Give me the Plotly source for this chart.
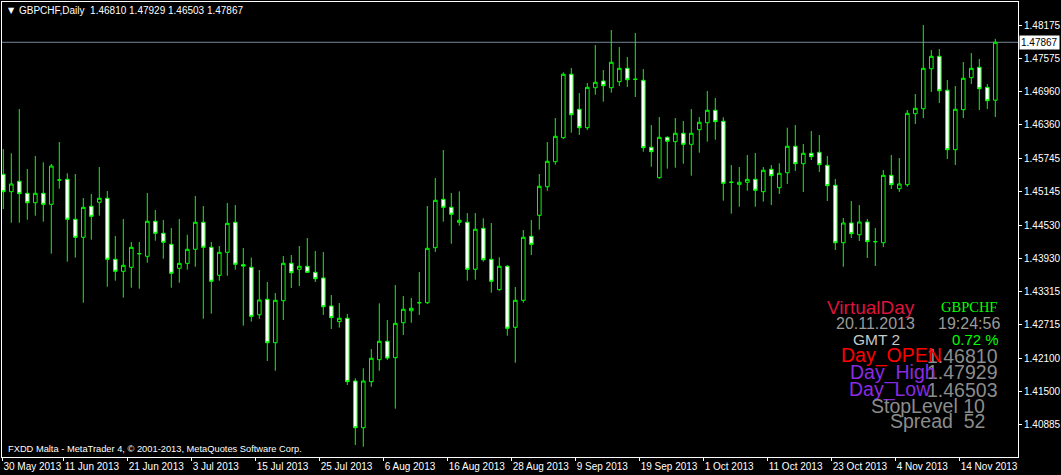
import pandas as pd
import plotly.graph_objects as go

# ---------------- data ----------------
dates = pd.bdate_range("2013-05-30", "2013-11-20")  # 125 daily bars (Mon-Fri)

opens = [1.45458, 1.45140, 1.45330, 1.45111, 1.44939, 1.45111, 1.44910, 1.45354, 1.45366, 1.44636,
         1.44308, 1.44874, 1.44947, 1.45020, 1.43906, 1.43687, 1.43760, 1.44009, 1.43961, 1.44600,
         1.44381, 1.44180, 1.43742, 1.43833, 1.44089, 1.44582, 1.44125, 1.43614, 1.44034, 1.44582,
         1.43808, 1.43760, 1.42895, 1.43176, 1.42384, 1.43151, 1.43833, 1.43724, 1.43779, 1.43669,
         1.43565, 1.43054, 1.42768, 1.42830, 1.41685, 1.40833, 1.41673, 1.42074, 1.42410, 1.42111,
         1.42749, 1.42968, 1.43114, 1.43114, 1.44118, 1.45001, 1.44855, 1.44582, 1.44582, 1.43724,
         1.44472, 1.43906, 1.43352, 1.43779, 1.42665, 1.43158, 1.44326, 1.44709, 1.45231, 1.45688,
         1.46126, 1.47283, 1.46644, 1.46308, 1.47038, 1.47160, 1.47038, 1.47148, 1.47392, 1.47191,
         1.47173, 1.45950, 1.45396, 1.46133, 1.46053, 1.46206, 1.46005, 1.46272, 1.46399, 1.46626,
         1.46425, 1.45312, 1.45275, 1.45312, 1.45366, 1.45140, 1.45549, 1.45213, 1.45487, 1.45969,
         1.45651, 1.45841, 1.45859, 1.45622, 1.45257, 1.44209, 1.44569, 1.44355, 1.44587, 1.44228,
         1.44209, 1.45439, 1.45195, 1.45268, 1.46564, 1.46655, 1.47385, 1.47611, 1.46991, 1.45907,
         1.46637, 1.47221, 1.47410, 1.47045, 1.46810]

highs = [1.45919, 1.45841, 1.46649, 1.45554, 1.45792, 1.45677, 1.45646, 1.46047, 1.45476, 1.45463,
         1.45025, 1.45098, 1.45591, 1.45153, 1.44332, 1.44642, 1.44222, 1.44222, 1.45116, 1.44806,
         1.44624, 1.44478, 1.44642, 1.44355, 1.45062, 1.44879, 1.44222, 1.44149, 1.44934, 1.44897,
         1.44113, 1.43936, 1.43711, 1.43492, 1.43291, 1.43967, 1.43985, 1.44149, 1.44295, 1.44058,
         1.44040, 1.43255, 1.43109, 1.42908, 1.41735, 1.41917, 1.42269, 1.43103, 1.42799, 1.43437,
         1.43237, 1.43200, 1.43675, 1.44879, 1.45390, 1.45901, 1.45116, 1.45147, 1.44751, 1.44751,
         1.44655, 1.44569, 1.43943, 1.43802, 1.43401, 1.44441, 1.44624, 1.45463, 1.46047, 1.46485,
         1.47319, 1.47398, 1.46941, 1.47124, 1.47817, 1.47361, 1.48091, 1.47781, 1.47598, 1.48036,
         1.47379, 1.46357, 1.46503, 1.46151, 1.46485, 1.46430, 1.46649, 1.46503, 1.46978, 1.46850,
         1.46498, 1.45627, 1.45591, 1.45810, 1.45846, 1.45591, 1.45627, 1.45658, 1.46308, 1.46357,
         1.46011, 1.46248, 1.46175, 1.45792, 1.45372, 1.44660, 1.44970, 1.44897, 1.44642, 1.44478,
         1.45536, 1.45810, 1.45755, 1.46631, 1.46923, 1.48182, 1.47726, 1.47744, 1.47179, 1.47069,
         1.47507, 1.47671, 1.47562, 1.47106, 1.47929]

lows = [1.44824, 1.44574, 1.44574, 1.44629, 1.44702, 1.44593, 1.44009, 1.45195, 1.43863, 1.43936,
        1.43114, 1.44264, 1.44702, 1.43406, 1.43516, 1.43206, 1.43388, 1.43370, 1.43844, 1.44246,
        1.43917, 1.43388, 1.43479, 1.43717, 1.43771, 1.42822, 1.42914, 1.43516, 1.43607, 1.43717,
        1.42695, 1.42768, 1.42822, 1.42050, 1.41873, 1.42799, 1.43383, 1.43419, 1.43669, 1.43492,
        1.42890, 1.42634, 1.42658, 1.41612, 1.40517, 1.40486, 1.41581, 1.41873, 1.42069, 1.41180,
        1.42525, 1.42749, 1.42890, 1.43091, 1.44040, 1.44593, 1.44191, 1.44520, 1.43516, 1.43534,
        1.43863, 1.43297, 1.43333, 1.42512, 1.42019, 1.43114, 1.43985, 1.44447, 1.45158, 1.45633,
        1.46102, 1.46217, 1.46175, 1.46266, 1.46910, 1.46783, 1.46947, 1.47069, 1.47051, 1.46868,
        1.45870, 1.45596, 1.45377, 1.45560, 1.45578, 1.45651, 1.45432, 1.45852, 1.46053, 1.46089,
        1.44976, 1.44739, 1.44866, 1.45158, 1.44866, 1.44958, 1.44897, 1.45098, 1.45281, 1.45518,
        1.45135, 1.45719, 1.45500, 1.44970, 1.44076, 1.43771, 1.44295, 1.44240, 1.43930, 1.43784,
        1.44131, 1.45189, 1.45135, 1.45231, 1.46376, 1.46485, 1.46960, 1.46759, 1.45737, 1.45627,
        1.46485, 1.47106, 1.46631, 1.46649, 1.46503]

closes = [1.45140, 1.45281, 1.45104, 1.44939, 1.45111, 1.44910, 1.45609, 1.45354, 1.44636, 1.44308,
          1.44855, 1.44691, 1.45020, 1.43906, 1.43687, 1.43797, 1.44125, 1.44009, 1.44600, 1.44381,
          1.44217, 1.43651, 1.43833, 1.44089, 1.44582, 1.44125, 1.43505, 1.44034, 1.44563, 1.43815,
          1.43784, 1.42866, 1.43164, 1.42384, 1.43158, 1.43833, 1.43662, 1.43779, 1.43669, 1.43552,
          1.43041, 1.42841, 1.42830, 1.41673, 1.40833, 1.41685, 1.42100, 1.42410, 1.42105, 1.42738,
          1.42994, 1.43012, 1.43114, 1.44107, 1.44983, 1.44855, 1.44728, 1.44618, 1.43724, 1.44454,
          1.43899, 1.43505, 1.43779, 1.42647, 1.43158, 1.44308, 1.44180, 1.45239, 1.45695, 1.46151,
          1.47283, 1.46545, 1.46308, 1.47045, 1.47137, 1.47075, 1.47502, 1.47392, 1.47184, 1.47191,
          1.45943, 1.45870, 1.46133, 1.46060, 1.46206, 1.46005, 1.46206, 1.46407, 1.46626, 1.46418,
          1.45293, 1.45312, 1.45312, 1.45366, 1.45166, 1.45531, 1.45432, 1.45476, 1.45969, 1.45651,
          1.45841, 1.45779, 1.45633, 1.45250, 1.44209, 1.44569, 1.44374, 1.44587, 1.44228, 1.44228,
          1.45439, 1.45268, 1.45281, 1.46571, 1.46662, 1.47392, 1.47611, 1.46983, 1.45907, 1.46644,
          1.47210, 1.47392, 1.47020, 1.46801, 1.47867]

price_ticks = [1.48175, 1.47575, 1.46960, 1.46360, 1.45745, 1.45145, 1.44530, 1.43930,
               1.43315, 1.42715, 1.42100, 1.41500, 1.40885, 1.40285]

date_ticks = ["30 May 2013", "11 Jun 2013", "21 Jun 2013", "3 Jul 2013", "15 Jul 2013",
              "25 Jul 2013", "6 Aug 2013", "16 Aug 2013", "28 Aug 2013", "9 Sep 2013",
              "19 Sep 2013", "1 Oct 2013", "11 Oct 2013", "23 Oct 2013", "4 Nov 2013",
              "14 Nov 2013"]

symbol = "GBPCHF"
header = "GBPCHF,Daily  1.46810 1.47929 1.46503 1.47867"
footer = "FXDD Malta - MetaTrader 4, \u00a9 2001-2013, MetaQuotes Software Corp."
last_price = 1.47867

# ---------------- figure ----------------
idx = list(range(len(dates)))
date_labels = [f"{d.day} {d.strftime('%b %Y')}" for d in dates]
X0 = -0.1625
tick_idx = [max(date_labels.index(t) - 0.45, X0 + 0.05) for t in date_ticks]

W, H = 1061, 475
ML, MR, MT, MB = 2, 43, 2, 18
PW, PH = W - ML - MR, H - MT - MB


def px_x(px):
    return (px - ML) / PW


def px_y(py):
    return (MT + PH - py) / PH


fig = go.Figure()
fig.add_trace(go.Candlestick(
    x=idx, open=opens, high=highs, low=lows, close=closes,
    increasing=dict(line=dict(color="#00FF00", width=1), fillcolor="#000000"),
    decreasing=dict(line=dict(color="#00FF00", width=1), fillcolor="#FFFFFF"),
    whiskerwidth=0, hoverinfo="skip", showlegend=False,
))

fig.add_shape(type="line", xref="paper", x0=0, x1=1, yref="y", y0=last_price, y1=last_price,
              line=dict(color="#778899", width=1), layer="below")

axis_font = dict(family="Liberation Sans, Arial, sans-serif", size=10, color="#FFFFFF")

fig.update_layout(
    width=W, height=H,
    margin=dict(l=ML, r=MR, t=MT, b=MB, pad=0, autoexpand=False),
    paper_bgcolor="#000000", plot_bgcolor="#000000",
    boxgap=0.35,
    showlegend=False,
    xaxis=dict(
        range=[X0, X0 + PW / 8.0],
        rangeslider=dict(visible=False),
        automargin=False,
        showgrid=False, zeroline=False,
        showline=True, linecolor="#FFFFFF", linewidth=1, mirror=True,
        ticks="outside", ticklen=3, tickcolor="#FFFFFF", tickwidth=1,
        tickmode="array", tickvals=tick_idx, ticktext=date_ticks,
        ticklabelposition="outside right", tickangle=0,
        tickfont=axis_font,
    ),
    yaxis=dict(
        range=[1.402983, 1.486021],
        side="right",
        automargin=False,
        showgrid=False, zeroline=False,
        showline=True, linecolor="#FFFFFF", linewidth=1, mirror=True,
        ticks="outside", ticklen=3, tickcolor="#FFFFFF", tickwidth=1,
        tickmode="array", tickvals=price_ticks,
        ticktext=[f"{v:.5f}" for v in price_ticks],
        tickfont=axis_font,
    ),
)

ann = []
# header
ann.append(dict(text="\u25bc", x=px_x(6), y=px_y(10), xref="paper", yref="paper",
                xanchor="left", yanchor="middle", showarrow=False,
                font=dict(family="DejaVu Sans", size=8, color="#FFFFFF")))
ann.append(dict(text=header, x=px_x(17), y=px_y(10), xref="paper", yref="paper",
                xanchor="left", yanchor="middle", showarrow=False,
                font=dict(family="Liberation Sans, Arial, sans-serif", size=10, color="#FFFFFF")))
# footer
ann.append(dict(text=footer, x=px_x(6), y=px_y(449), xref="paper", yref="paper",
                xanchor="left", yanchor="middle", showarrow=False,
                font=dict(family="Liberation Sans, Arial, sans-serif", size=9.3, color="#FFFFFF")))
# current price label
ann.append(dict(text=f"{last_price:.5f}", x=px_x(1019), y=last_price, xref="paper", yref="y",
                xanchor="left", yanchor="middle", showarrow=False,
                bgcolor="#FFFFFF", borderpad=1,
                font=dict(family="Liberation Sans, Arial, sans-serif", size=10, color="#000000")))

SANS = "Liberation Sans, Arial, sans-serif"
SERIF = "Liberation Serif, Times New Roman, serif"
info = [
    # text, color, size, family, right x px, center y px
    ("1.46810", "#8C8C8C", 19.5, SANS, 1000, 355.5),
    ("1.47929", "#8C8C8C", 19.5, SANS, 1000, 372),
    ("1.46503", "#8C8C8C", 19.5, SANS, 1000, 389.5),
    ("VirtualDay", "#DC143C", 19, SANS, 917, 307.5),
    ("GBPCHF", "#00FF00", 14.5, SERIF, 999, 306.5),
    ("20.11.2013", "#9A9A9A", 16, SANS, 917, 324),
    ("19:24:56", "#9A9A9A", 16, SANS, 1002, 324),
    ("GMT 2", "#C8C8C8", 15.5, SANS, 902, 339),
    ("0.72 %", "#00FF00", 15, SANS, 1001, 339),
    ("Day_OPEN", "#FF0000", 19.5, SANS, 944, 355.5),
    ("Day_High", "#8A2BE2", 19.5, SANS, 938, 372),
    ("Day_Low", "#8A2BE2", 19.5, SANS, 933, 389.5),
    ("StopLevel 10", "#8C8C8C", 19.5, SANS, 987, 406),
    ("Spread  52", "#8C8C8C", 19.5, SANS, 987, 421),
]
for text, color, size, fam, xr, yc in info:
    ann.append(dict(text=text.replace("  ", "&nbsp; "), x=px_x(xr), y=px_y(yc),
                    xref="paper", yref="paper", xanchor="right", yanchor="middle",
                    showarrow=False, font=dict(family=fam, size=size, color=color)))

fig.update_layout(annotations=ann)
fig.write_html(
    "out.html",
    config={"displayModeBar": False},
    post_script="document.body.style.margin='0';document.body.style.overflow='hidden';",
)
